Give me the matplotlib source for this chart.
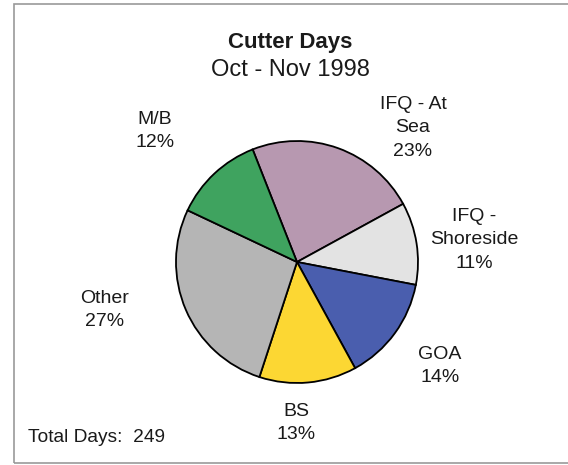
import matplotlib
matplotlib.use("Agg")
import matplotlib.pyplot as plt
from matplotlib.patches import Rectangle

plt.rcParams['font.family'] = ['Liberation Sans', 'DejaVu Sans']

# data (clockwise from the top-left boundary)
categories = ["IFQ - At\nSea", "IFQ -\nShoreside", "GOA", "BS", "Other", "M/B"]
shares = [23, 11, 14, 13, 27, 12]
colors = ["#b798b0", "#e3e3e3", "#4a5eae", "#fcd733", "#b5b5b5", "#3fa35f"]
total_days = 249

# label centres, pixel coords from top-left
label_pos = [(413, 128), (474, 240), (440, 366), (296, 423), (105, 310), (155, 131)]

W, H = 568, 465
fig = plt.figure(figsize=(W / 100, H / 100), dpi=100)
ax = fig.add_axes([0, 0, 1, 1])

ax.pie(shares, colors=colors, startangle=111.5, counterclock=False,
       center=(297, H - 262), radius=121,
       wedgeprops=dict(edgecolor="black", linewidth=1.3))

for cat, val, (px, py) in zip(categories, shares, label_pos):
    ax.text(px, H - py, f"{cat}\n{val}%", ha="center", va="center",
            fontsize=14, linespacing=1.5, color="#1a1a1a")

ax.text(290, H - 43, "Cutter Days", ha="center", va="center",
        fontsize=16, fontweight="bold", color="#1a1a1a")
ax.text(290, H - 70, "Oct - Nov 1998", ha="center", va="center",
        fontsize=17, color="#1a1a1a")
ax.text(28, H - 437, f"Total Days:  {total_days}", ha="left", va="center",
        fontsize=13.8, color="#1a1a1a")

ax.add_patch(Rectangle((14, 2), 600, H - 6, fill=False,
                       edgecolor="#999999", linewidth=1.2))

ax.set_xlim(0, W)
ax.set_ylim(0, H)
ax.set_aspect("equal")
ax.axis("off")

fig.savefig("out.png", dpi=100)
